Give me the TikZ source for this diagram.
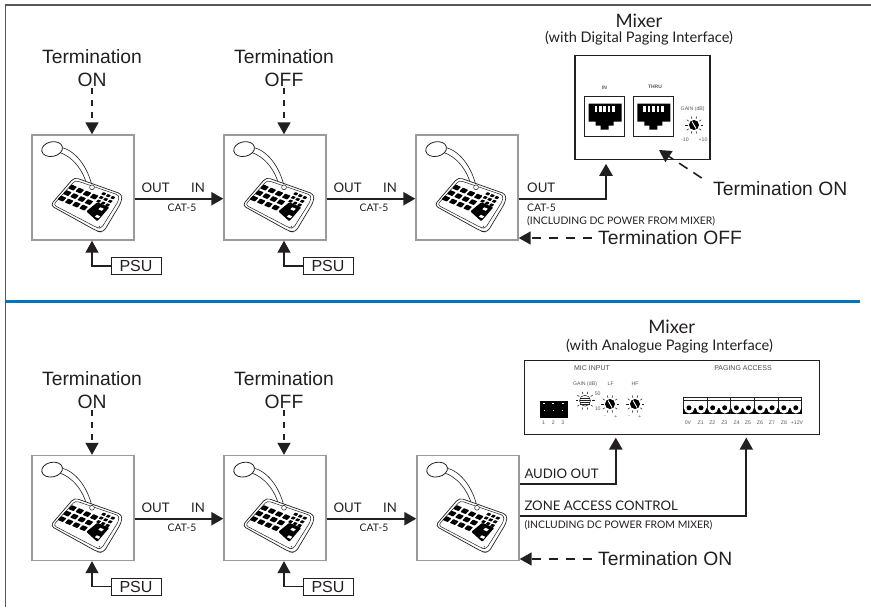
\documentclass[tikz,border=0pt]{standalone}
\usepackage{fontspec}
\setmainfont{Liberation Sans}
\newfontfamily\gillfont{Lato}
\usetikzlibrary{arrows.meta,calc}
\definecolor{inkdark}{HTML}{231F20}
\definecolor{panelgrey}{HTML}{9A9A9A}
\definecolor{rulecolour}{HTML}{0075BF}
\tikzset{
	x=1pt,y=-1pt,
	micbox/.style={draw=panelgrey,line width=1.4pt,fill=white,minimum width=102pt,minimum height=105pt,inner sep=0pt},
	mixerbox/.style={draw=inkdark,line width=1.1pt,inner sep=0pt},
	termtext/.style={text=inkdark,font=\fontsize{19.3}{23}\selectfont,align=center,inner sep=0pt},
	titletext/.style={text=inkdark,font=\gillfont\fontsize{18.5}{20}\selectfont,inner sep=0pt,anchor=base},
	subtext/.style={text=inkdark,font=\gillfont\fontsize{14.6}{16}\selectfont,inner sep=0pt,anchor=base},
	linetext/.style={text=inkdark,font=\gillfont\fontsize{13.2}{14}\selectfont,inner sep=0pt,anchor=base},
	smalltext/.style={text=inkdark,font=\gillfont\fontsize{10.4}{12}\selectfont,inner sep=0pt,anchor=base},
	tinytext/.style={text=black!65,font=\fontsize{5.2}{6}\selectfont,inner sep=0pt},
	headtext/.style={text=black!70,font=\fontsize{7}{8}\selectfont,inner sep=0pt},
	psubox/.style={draw=inkdark,line width=1pt,text=inkdark,font=\fontsize{16}{18}\selectfont,minimum width=50pt,minimum height=17pt,inner sep=0pt},
	sigline/.style={draw=inkdark,line width=2.4pt,-{Triangle[length=12pt,width=13pt]}},
	termline/.style={draw=inkdark,line width=1.6pt,dash pattern=on 6pt off 6pt,-{Triangle[length=12pt,width=13pt]}},
	termlong/.style={termline,dash pattern=on 9pt off 8pt},
	termslant/.style={termline,dash pattern=on 10pt off 7pt},
	psuline/.style={draw=inkdark,line width=1.2pt,-{Triangle[length=12pt,width=13pt]}},
	deskmic/.pic={
		\draw[inkdark,line width=.6pt,fill=white] (29,13) .. controls (42,15) and (56,30) .. (61,53) -- (56.5,54) .. controls (52,34) and (40,22) .. (28,18) -- cycle;
		\draw[inkdark,line width=.8pt,fill=white,rotate around={12:(20.8,14.8)}] (20.8,14.8) ellipse [x radius=10.5,y radius=7.3];
		\draw[inkdark,line width=.7pt,fill=white,rounded corners=4pt] (19,71) -- (43,43) -- (91,60) -- (90,68) -- (72,98) -- (66,97) -- cycle;
		\draw[inkdark,line width=.5pt,rounded corners=3pt] (22,70.5) -- (44,46) -- (88,61) -- (87,67) -- (70,94) -- (66,93.5) -- cycle;
		\foreach \i in {0,1,2,3}
			\foreach \j in {0,1,2}
				\fill[black,rounded corners=.6pt,shift={({41.3+7.2*\i-5.3*\j},{53.3+3*\i+5.5*\j})}] (-.9,-3) -- (4.4,-.8) -- (.9,3) -- (-4.4,.8) -- cycle;
		\foreach \i in {0,1,2}
			\foreach \j in {0,1,2}
				\fill[black,rounded corners=.4pt,shift={({72.5+4.5*\i-2.6*\j},{59.5+1.9*\i+3.7*\j})}] (-.5,-1.7) -- (2.6,-.5) -- (.5,1.7) -- (-2.6,.5) -- cycle;
		\fill[black,rounded corners=1pt] (55,77) -- (66,68) -- (78,73) -- (66,87) -- cycle;
		\fill[white] (69,73) -- (72.5,74.5) -- (70.5,76.5) -- (67,75) -- cycle;
		\fill[white] (65.5,80.5) -- (69,82) -- (67,84) -- (63.5,82.5) -- cycle;
		\draw[inkdark,line width=.5pt,fill=white] (60.7,53) circle [radius=2.4];
		\fill[inkdark] (68,92) circle [radius=.6];
	},
	rjsocket/.pic={
		\draw[inkdark,line width=.8pt,fill=white] (0,0) rectangle (40,40);
		\fill[black] (4,7) -- (37,7) -- (37,25) -- (29,25) -- (29,29) -- (24,29) -- (24,33) -- (16,33) -- (16,29) -- (11,29) -- (11,25) -- (4,25) -- cycle;
		\foreach \k in {0,1,2,3,4}
			\fill[white] ({10+4.4*\k},9) rectangle ({12.6+4.4*\k},15);
	},
	dialknob/.pic={
		\foreach \a in {0,36,...,324}
			\draw[inkdark,line width=.5pt] (\a:6.5) -- (\a:9);
		\fill[black] (0,0) circle [radius=5];
		\draw[white,line width=.9pt] (-2,-3.5) -- (2,3.5);
	},
	gainknob/.pic={
		\foreach \a in {0,36,...,324}
			\draw[inkdark,line width=.5pt] (\a:7) -- (\a:9.5);
		\draw[inkdark,line width=.5pt,fill=white] (0,0) circle [radius=5.5];
		\foreach \k in {-3,-1,1,3}
			\draw[inkdark,line width=.4pt] (-5,\k) -- (5,\k);
	},
	termblock/.pic={
		\draw[inkdark,line width=.7pt,fill=white] (0,0) rectangle (23.7,3.4);
		\draw[inkdark,line width=1pt] (0,3.4) -- (0,16.5) (23.7,3.4) -- (23.7,16.5);
		\fill[black] (0,11) rectangle (23.7,16.5);
		\fill[white] (5.9,11) circle [radius=5.2] (17.8,11) circle [radius=5.2];
		\fill[black] (5.7,10.5) circle [radius=2.5] (17.7,10.5) circle [radius=2.5];
	},
}
\begin{document}
\begin{tikzpicture}
	\useasboundingbox (0,0) rectangle (871,608);
	% frame and divider
	\draw[inkdark!75,line width=1.6pt] (871,5) -- (5.5,5) -- (5.5,607);
	\draw[rulecolour,line width=3pt] (5,301.5) -- (860,301.5);

	% upper chain
	\node[micbox] (a1) at (83,187.5) {};
	\node[micbox] (a2) at (275,187.5) {};
	\node[micbox] (a3) at (467,187.5) {};
	\foreach \m in {a1,a2,a3}
		\pic at (\m.north west) {deskmic};
	\node[termtext] (ta1) at (92,68) {Termination\\ON};
	\node[termtext] (ta2) at (284,68) {Termination\\OFF};
	\draw[termline] (ta1.south) ++(0,1) -- (ta1.south |- a1.north);
	\draw[termline] (ta2.south) ++(0,1) -- (ta2.south |- a2.north);
	\node[psubox] (pa1) at (136,266) {PSU};
	\node[psubox] (pa2) at (328,266) {PSU};
	\draw[psuline] (pa1.west) -| ([xshift=9pt]a1.south);
	\draw[psuline] (pa2.west) -| ([xshift=9pt]a2.south);
	\draw[sigline] ([yshift=-11.2pt]a1.east) -- ([yshift=-11.2pt]a2.west);
	\draw[sigline] ([yshift=-11.2pt]a2.east) -- ([yshift=-11.2pt]a3.west);
	\node[linetext] (oa1) at (155.7,192.5) {OUT};
	\node[linetext] (ia1) at (198,192.5) {IN};
	\node[smalltext] (ca1) at (182,211.5) {CAT-5};
	\node[linetext] (oa2) at (347.7,192.5) {OUT};
	\node[linetext] (ia2) at (390,192.5) {IN};
	\node[smalltext] (ca2) at (374,211.5) {CAT-5};
	\node[linetext,anchor=base west] (oa3) at (527,192.5) {OUT};
	\node[smalltext,anchor=base west] (ca3) at (527,211.5) {CAT-5};
	\node[smalltext,anchor=base west] (da3) at (527,224.5) {(INCLUDING DC POWER FROM MIXER)};

	% upper mixer
	\node[titletext] (ma) at (639,27) {Mixer};
	\node[subtext] (sa) at (639,42.7) {(with Digital Paging Interface)};
	\node[mixerbox,minimum width=135pt,minimum height=103.5pt] (ba) at (642.5,107.5) {};
	\pic at (584.5,96.5) {rjsocket};
	\pic at (633.3,96.5) {rjsocket};
	\node[tinytext,font=\bfseries\fontsize{5}{6}\selectfont] (ina) at (604.5,87.3) {IN};
	\node[tinytext,font=\bfseries\fontsize{5}{6}\selectfont] (tha) at (655,87.3) {THRU};
	\node[tinytext] (ga) at (692.7,109.5) {GAIN (dB)};
	\pic at (694,125) {dialknob};
	\node[tinytext] (la) at (685,139.5) {-10};
	\node[tinytext] (ha) at (703,139.5) {+10};
	\draw[sigline] ([yshift=-11.2pt]a3.east) -| ([xshift=-36.5pt,yshift=-4pt]ba.south);
	\node[termtext,anchor=base west] (ton) at (713,195) {Termination ON};
	\node[termtext,anchor=base west] (tof) at (598,244.5) {Termination OFF};
	\coordinate (tipa) at (659,150);
	\coordinate (taila) at (701.7,178);
	\draw[termslant] (taila) -- (tipa);
	\coordinate (tailb) at (592,238);
	\draw[termlong] (tailb) -- (tailb -| a3.east);

	% lower chain
	\node[micbox] (b1) at (83,508) {};
	\node[micbox] (b2) at (275,508) {};
	\node[micbox] (b3) at (468,508) {};
	\foreach \m in {b1,b2,b3}
		\pic at (\m.north west) {deskmic};
	\node[termtext] (tb1) at (92,390) {Termination\\ON};
	\node[termtext] (tb2) at (284,390) {Termination\\OFF};
	\draw[termline] (tb1.south) ++(0,1) -- (tb1.south |- b1.north);
	\draw[termline] (tb2.south) ++(0,1) -- (tb2.south |- b2.north);
	\node[psubox] (pb1) at (136,586.5) {PSU};
	\node[psubox] (pb2) at (328,586.5) {PSU};
	\draw[psuline] (pb1.west) -| ([xshift=9pt]b1.south);
	\draw[psuline] (pb2.west) -| ([xshift=9pt]b2.south);
	\draw[sigline] ([yshift=-10.7pt]b1.east) -- ([yshift=-10.7pt]b2.west);
	\draw[sigline] ([yshift=-10.7pt]b2.east) -- ([yshift=-10.7pt]b3.west);
	\node[linetext] (ob1) at (155.7,512.5) {OUT};
	\node[linetext] (ib1) at (198,512.5) {IN};
	\node[smalltext] (cb1) at (182,531.5) {CAT-5};
	\node[linetext] (ob2) at (347.7,512.5) {OUT};
	\node[linetext] (ib2) at (390,512.5) {IN};
	\node[smalltext] (cb2) at (374,531.5) {CAT-5};
	\node[linetext,anchor=base west] (ab3) at (524.3,478) {AUDIO OUT};
	\node[linetext,anchor=base west] (zb3) at (524.3,510.7) {ZONE ACCESS CONTROL};
	\node[smalltext,anchor=base west] (db3) at (524.3,528.5) {(INCLUDING DC POWER FROM MIXER)};

	% lower mixer
	\node[titletext] (mb) at (671.7,333) {Mixer};
	\node[subtext] (sb) at (669.5,350.7) {(with Analogue Paging Interface)};
	\node[mixerbox,minimum width=295pt,minimum height=73.3pt] (bb) at (671.8,397.4) {};
	\node[headtext] (mi) at (592,368.3) {MIC INPUT};
	\node[headtext] (pg) at (743,368.3) {PAGING ACCESS};
	\node[tinytext] (gb) at (585,384) {GAIN (dB)};
	\node[tinytext] (lf) at (610.7,384) {LF};
	\node[tinytext] (hf) at (635,384) {HF};
	\fill[black] (540,400.7) rectangle (568,418);
	\foreach \k in {0,1,2} {
		\fill[white] ({543+9.4*\k},402.5) rectangle ({545+9.4*\k},403.5);
		\fill[white] ({543.5+9.4*\k},409.5) rectangle ({544.5+9.4*\k},410.5);
	}
	\foreach \n [count=\k from 0] in {1,2,3}
		\node[tinytext] (pin\n) at ({543.5+9.7*\k},422.5) {\n};
	\pic at (585,400.7) {gainknob};
	\node[tinytext] (g50) at (597.7,394) {50};
	\node[tinytext] (g10) at (597.7,409) {10};
	\pic at (610,404) {dialknob};
	\pic at (635,404) {dialknob};
	\node[tinytext] (lm) at (605,416.5) {-};
	\node[tinytext] (lp) at (616,416.5) {+};
	\node[tinytext] (hm) at (629.3,416.5) {-};
	\node[tinytext] (hp) at (640,416.5) {+};
	\foreach \k in {0,1,2,3,4}
		\pic at ({683.3+23.7*\k},397.3) {termblock};
	\foreach \t/\p [count=\q] in {0V/688,Z1/700.7,Z2/712.3,Z3/724.3,Z4/736.7,Z5/748,Z6/760,Z7/772,Z8/784,+12V/797}
		\node[tinytext] (zt\q) at (\p,422.5) {\t};
	\draw[sigline,line width=2.6pt] ([yshift=24pt]b3.east) -| ([xshift=-56pt,yshift=-3pt]bb.south);
	\draw[sigline,line width=2pt] ([yshift=-7.7pt]b3.east) -| ([xshift=74.5pt,yshift=-3pt]bb.south);
	\node[termtext,anchor=base west] (tob) at (598,565.7) {Termination ON};
	\coordinate (tailc) at (591.7,559);
	\draw[termlong] (tailc) -- (tailc -| b3.east);
\end{tikzpicture}
\end{document}
